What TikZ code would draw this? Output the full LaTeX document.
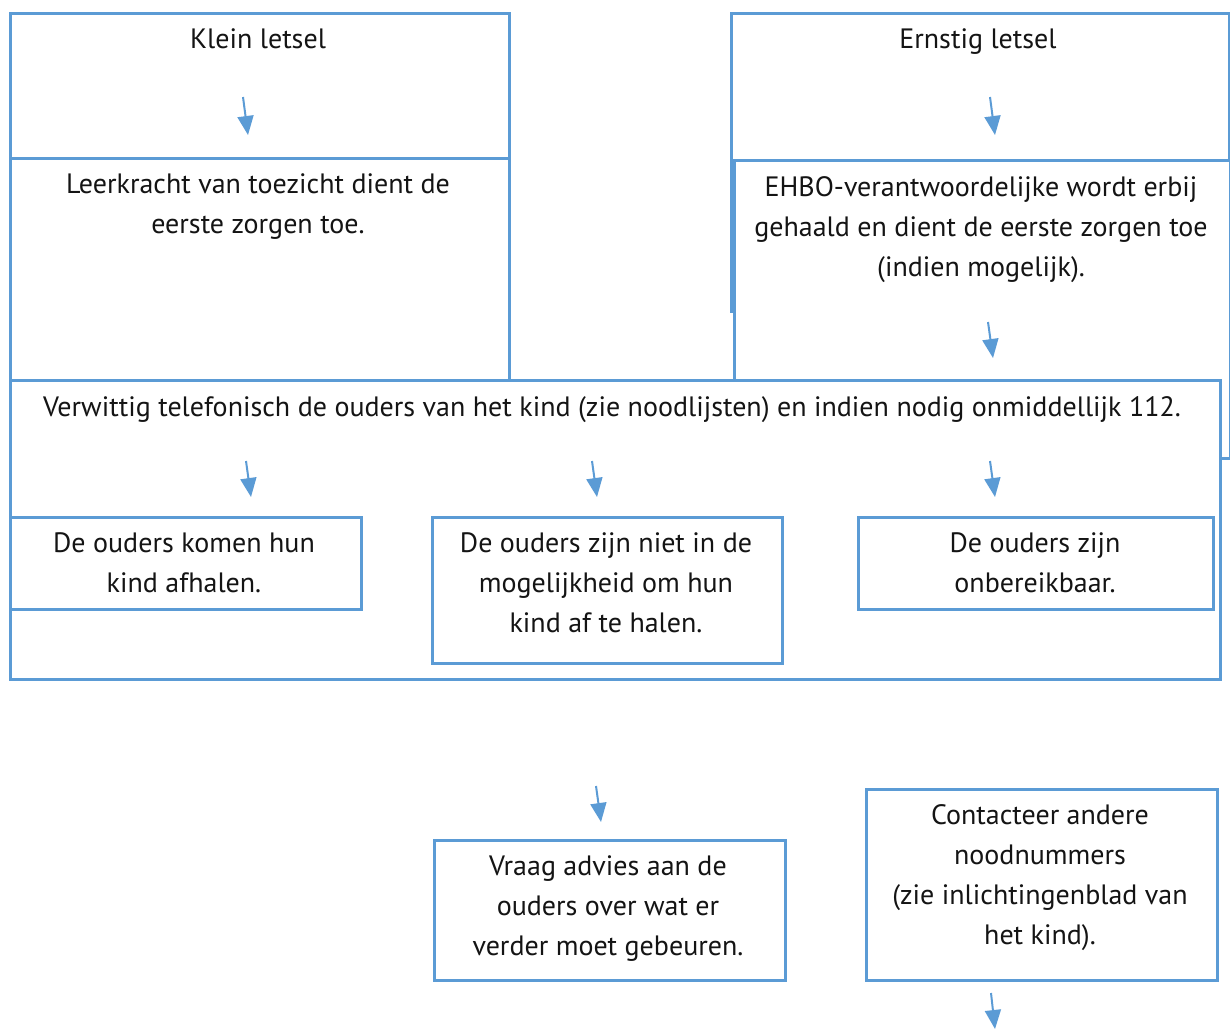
\documentclass[tikz,border=0pt]{standalone}
\usepackage{fontspec}
\setmainfont{PT Sans}
\usetikzlibrary{arrows.meta}
\definecolor{bblue}{HTML}{5B9BD5}
\definecolor{txt}{HTML}{141414}
\newcommand{\tstrut}{\rule{0pt}{24pt}}
\tikzset{
  box/.style={draw=bblue, line width=2.6pt, fill=white, rectangle, inner sep=0pt, anchor=north west},
  lbl/.style={inner sep=0pt, anchor=north, align=center, text=txt,
    font=\fontsize{28}{40}\selectfont},
  arr/.style={draw=bblue, line width=2pt, -{Triangle[length=19pt,width=16pt]}}
}
\begin{document}
\begin{tikzpicture}[x=1pt,y=-1pt]
\useasboundingbox (0,0) rectangle (1230,1029);
% boxes
\node[box, minimum width=499pt, minimum height=300pt] (A) at (9,12) {};
\node[box, minimum width=499pt, minimum height=222pt] (B) at (9,157) {};
\node[box, minimum width=498pt, minimum height=298pt] (C) at (730,12) {};
\node[box, minimum width=496pt, minimum height=298pt] (D) at (733,159) {};
\node[box, minimum width=1210pt, minimum height=299pt] (E) at (9,379) {};
\node[box, minimum width=351pt, minimum height=92pt] (F) at (9,516) {};
\node[box, minimum width=350pt, minimum height=146pt] (G) at (431,516) {};
\node[box, minimum width=355pt, minimum height=92pt] (H) at (857,516) {};
\node[box, minimum width=351pt, minimum height=140pt] (I) at (433,839) {};
\node[box, minimum width=351pt, minimum height=191pt] (J) at (865,788) {};
% labels (top = first baseline - 24)
\node[lbl] (tA) at (258,24) {\tstrut Klein letsel};
\node[lbl] (tB) at (258,169) {\tstrut Leerkracht van toezicht dient de\\eerste zorgen toe.};
\node[lbl] (tC) at (978,24) {\tstrut Ernstig letsel};
\node[lbl] (tD) at (981,172) {\tstrut EHBO-verantwoordelijke wordt erbij\\gehaald en dient de eerste zorgen toe\\(indien mogelijk).};
\node[lbl] (tE) at (612,392) {\tstrut Verwittig telefonisch de ouders van het kind (zie noodlijsten) en indien nodig onmiddellijk 112.};
\node[lbl] (tF) at (184,528) {\tstrut De ouders komen hun\\kind afhalen.};
\node[lbl] (tG) at (606,528) {\tstrut De ouders zijn niet in de\\mogelijkheid om hun\\kind af te halen.};
\node[lbl] (tH) at (1035,528) {\tstrut De ouders zijn\\onbereikbaar.};
\node[lbl] (tI) at (608,851) {\tstrut Vraag advies aan de\\ouders over wat er\\verder moet gebeuren.};
\node[lbl] (tJ) at (1040,800) {\tstrut Contacteer andere\\noodnummers\\(zie inlichtingenblad van\\het kind).};
% arrow end points
\coordinate (a1s) at (243,97);  \coordinate (a1e) at (248,135);
\coordinate (a2s) at (990,97);  \coordinate (a2e) at (995,135);
\coordinate (a3s) at (988,322); \coordinate (a3e) at (993,358);
\coordinate (a4s) at (246,461); \coordinate (a4e) at (251,497);
\coordinate (a5s) at (592,461); \coordinate (a5e) at (597,497);
\coordinate (a6s) at (990,461); \coordinate (a6e) at (995,497);
\coordinate (a7s) at (596,786); \coordinate (a7e) at (601,822);
\coordinate (a8s) at (991,993); \coordinate (a8e) at (995,1029);
\foreach \i in {1,...,8} {\draw[arr] (a\i s) -- (a\i e);}
\end{tikzpicture}
\end{document}
